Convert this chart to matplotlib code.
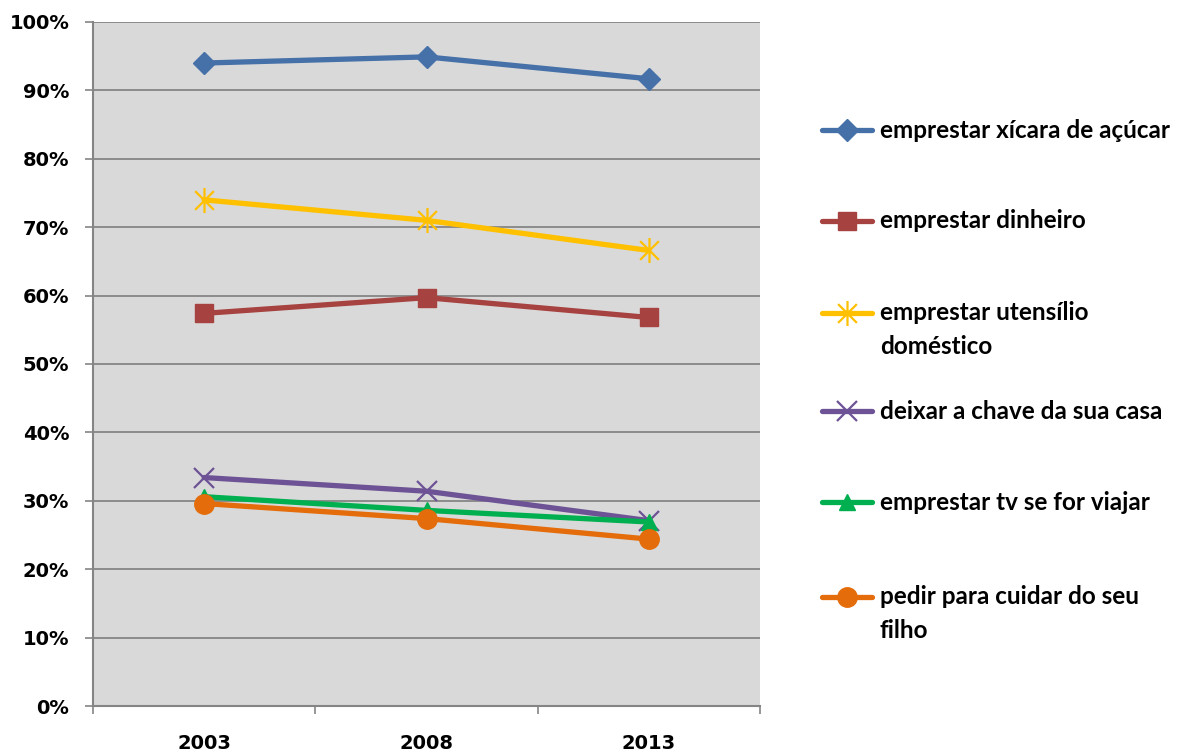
import matplotlib
matplotlib.use("Agg")
import matplotlib.pyplot as plt
from matplotlib.path import Path
from matplotlib.lines import Line2D
from matplotlib.ticker import FixedLocator, PercentFormatter

years = ["2003", "2008", "2013"]

labels = [
    "emprestar xícara de açúcar",
    "emprestar dinheiro",
    "emprestar utensílio\ndoméstico",
    "deixar a chave da sua casa",
    "emprestar tv se for viajar",
    "pedir para cuidar do seu\nfilho",
]

acucar = [94.0, 94.9, 91.7]
dinheiro = [57.4, 59.7, 56.8]
utensilio = [74.0, 71.0, 66.6]
chave = [33.4, 31.4, 27.1]
tv = [30.6, 28.6, 26.9]
filho = [29.6, 27.4, 24.4]

series = [acucar, dinheiro, utensilio, chave, tv, filho]

# excel-ish asterisk: vertical stroke plus two diagonals
star = Path(
    [(0, -1), (0, 1), (-0.75, -0.75), (0.75, 0.75), (-0.75, 0.75), (0.75, -0.75)],
    [Path.MOVETO, Path.LINETO] * 3,
)

styles = [
    dict(color="#4570A8", marker="D", ms=11),
    dict(color="#A6423F", marker="s", ms=13),
    dict(color="#FFC000", marker=star, ms=18, mew=1.6),
    dict(color="#6D5395", marker="x", ms=14, mew=1.6),
    dict(color="#00B050", marker="^", ms=12),
    dict(color="#E46C0A", marker="o", ms=14),
]

W, H = 1183, 751
fig = plt.figure(figsize=(W / 100, H / 100), dpi=100)
ax = fig.add_axes([93 / W, 1 - 706 / H, (760 - 93) / W, (706 - 22) / H])
ax.set_facecolor("#D9D9D9")

x = list(range(len(years)))
for vals, st in zip(series, styles):
    ax.plot(x, vals, color=st["color"], lw=3.8, marker=st["marker"],
            ms=st["ms"], mew=st.get("mew", 1), mec=st["color"], mfc=st["color"],
            solid_capstyle="round", solid_joinstyle="round")

ax.set_xlim(-0.5, 2.5)
ax.set_ylim(0, 100)
ax.set_yticks(range(0, 101, 10))
ax.yaxis.set_major_formatter(PercentFormatter(decimals=0))
ax.set_xticks(x)
ax.set_xticklabels(years)
ax.xaxis.set_minor_locator(FixedLocator([-0.5, 0.5, 1.5, 2.5]))

grid_c = "#858585"
ax.grid(axis="y", color=grid_c, lw=1.3)
ax.set_axisbelow(True)
for side in ("top", "right"):
    ax.spines[side].set_visible(False)
for side in ("left", "bottom"):
    ax.spines[side].set_color(grid_c)
    ax.spines[side].set_linewidth(1.5)

ax.tick_params(axis="y", length=6, width=1.2, color=grid_c, pad=11)
ax.tick_params(axis="x", which="major", length=0, pad=20)
ax.tick_params(axis="x", which="minor", length=6, width=1.2, color=grid_c)
for lab in ax.get_yticklabels() + ax.get_xticklabels():
    lab.set_fontfamily("DejaVu Sans")
    lab.set_fontweight("bold")
    lab.set_fontsize(14)

# legend drawn entry by entry so two-line labels keep the key on their first line
entry_y = [130, 221, 313, 411, 502, 597]
line_gap = 34
for lab, st, yy in zip(labels, styles, entry_y):
    yf = 1 - yy / H
    fig.add_artist(Line2D([822 / W, 872 / W], [yf, yf], transform=fig.transFigure,
                          color=st["color"], lw=3.8, solid_capstyle="round"))
    fig.add_artist(Line2D([847 / W], [yf], transform=fig.transFigure,
                          color=st["color"], marker=st["marker"], ms=st["ms"],
                          mew=st.get("mew", 1), mec=st["color"], mfc=st["color"], lw=0))
    for i, part in enumerate(lab.split("\n")):
        fig.text(880 / W, 1 - (yy + i * line_gap) / H, part, ha="left", va="center",
                 fontsize=17.5, fontweight="bold", family="Lato")

fig.savefig("out.png", dpi=100)
